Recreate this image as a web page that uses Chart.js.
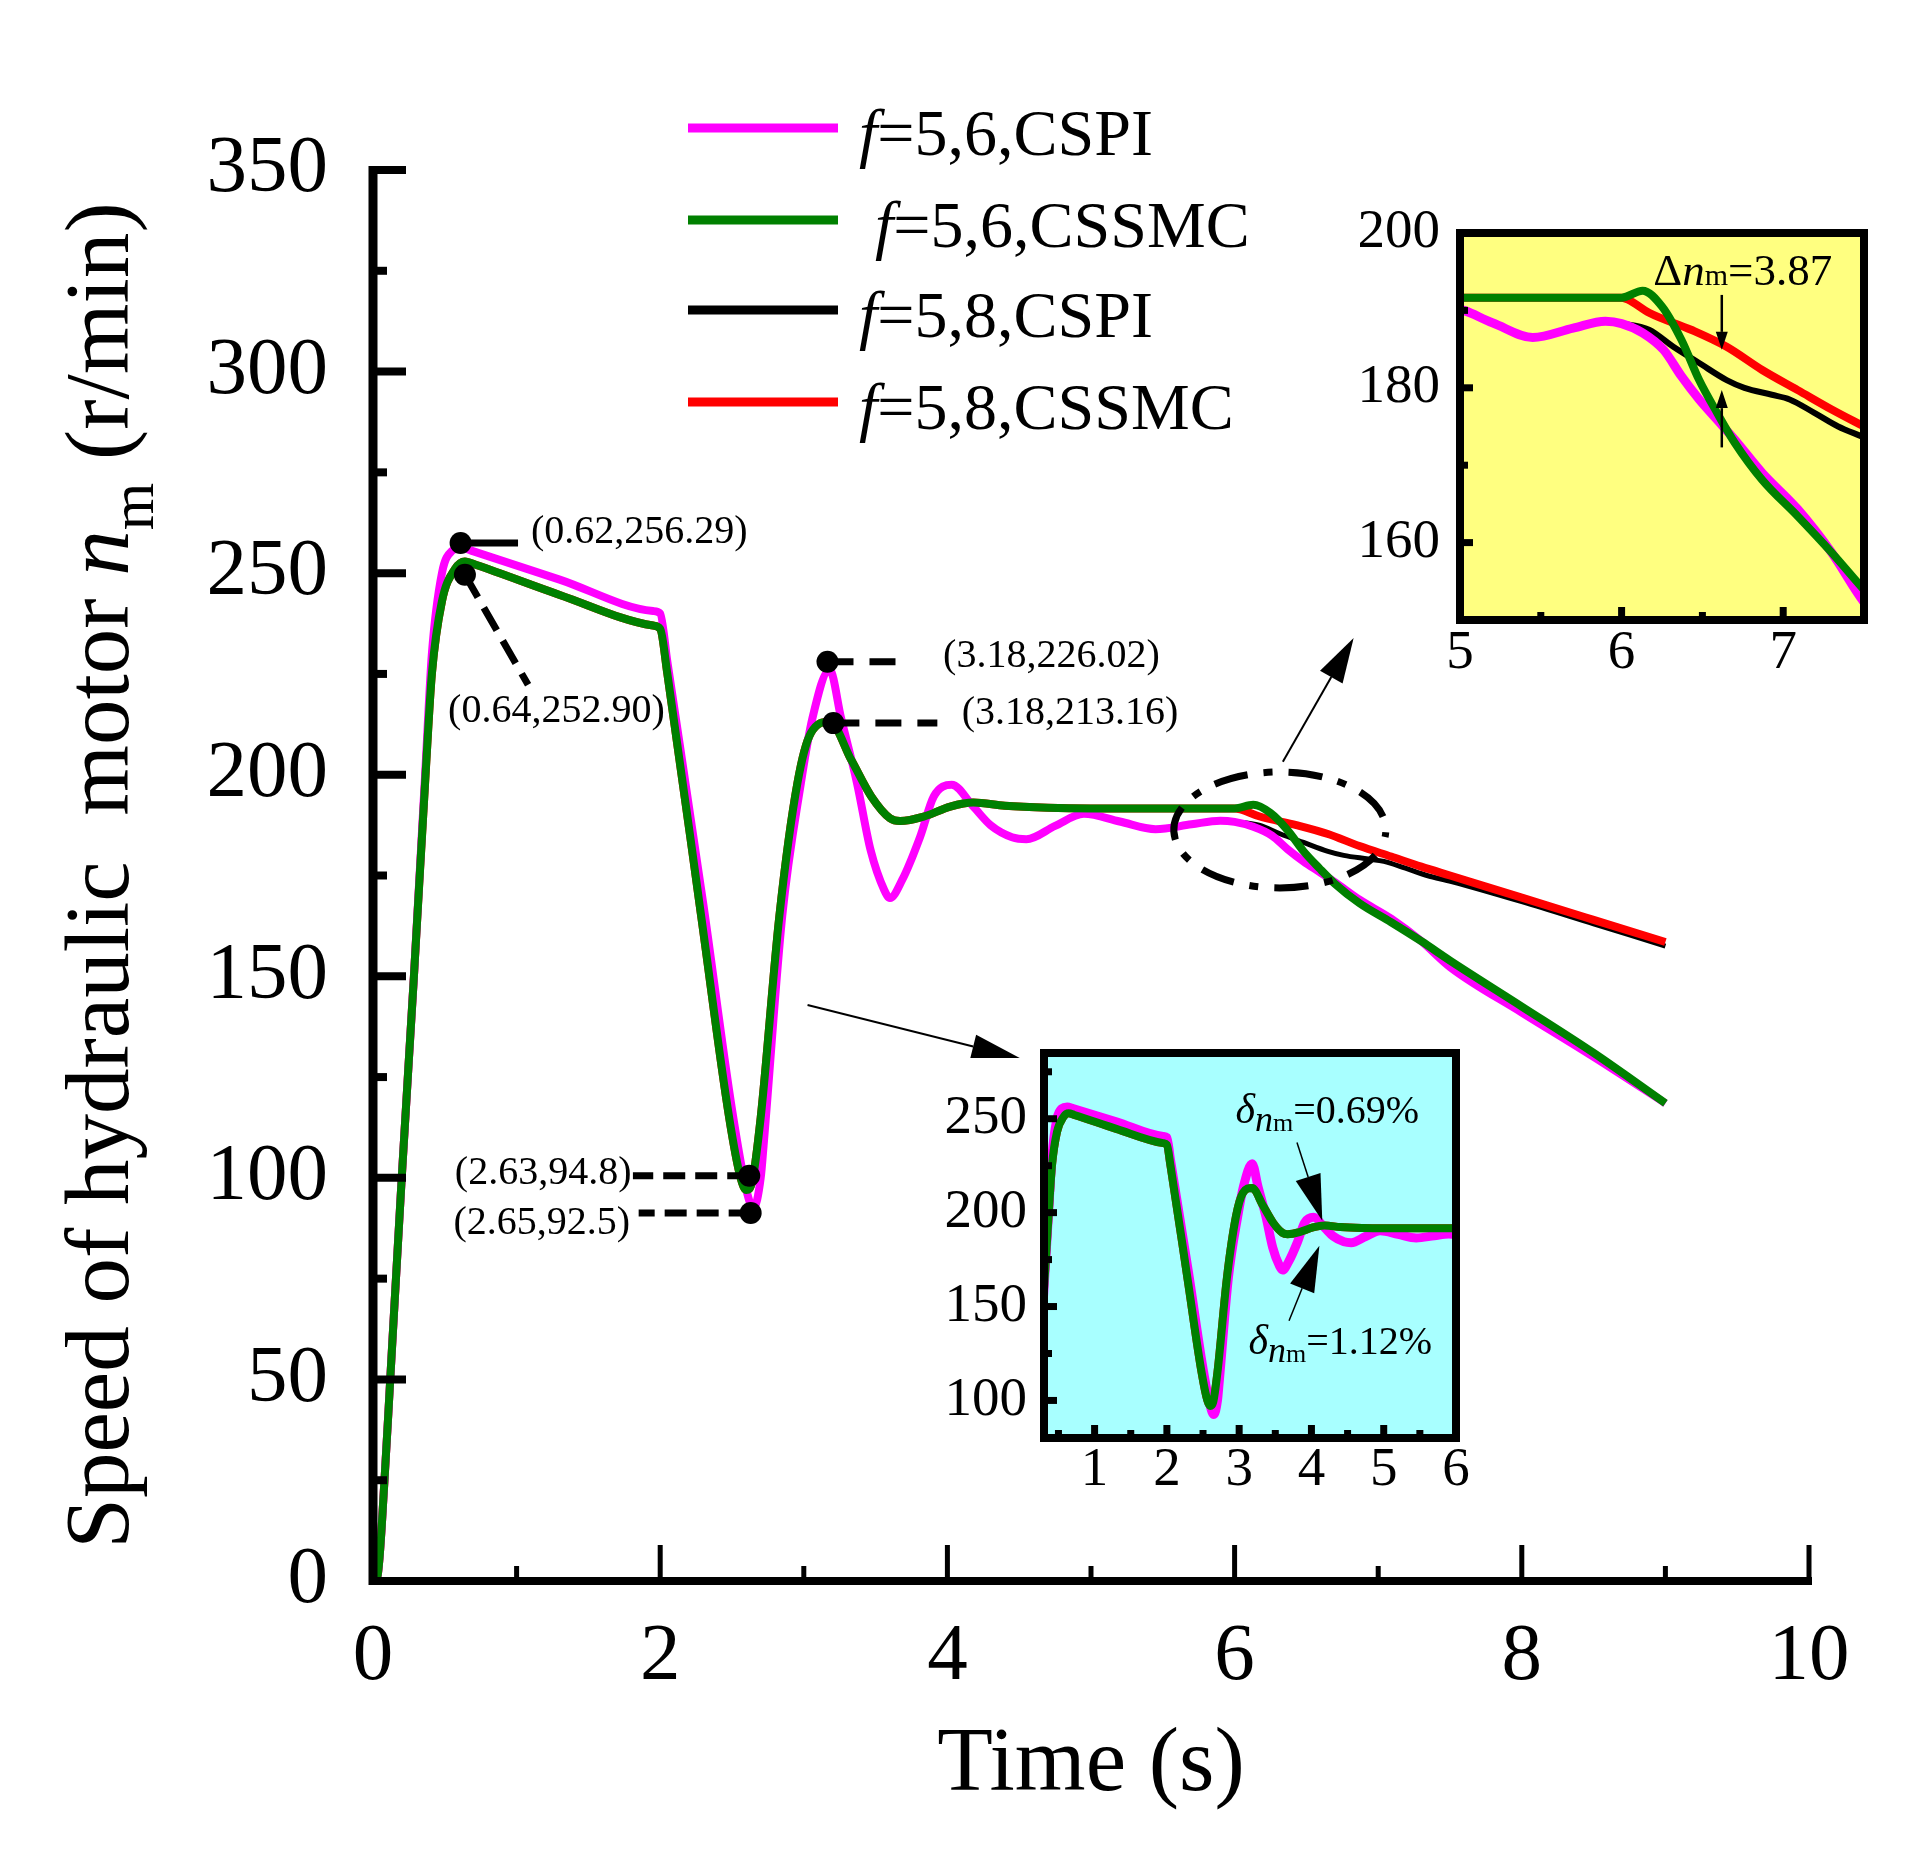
<!DOCTYPE html>
<html>
<head>
<meta charset="utf-8">
<script src="https://cdn.jsdelivr.net/npm/chart.js@4.4.1/dist/chart.umd.min.js"></script>
<style>
  html, body { margin: 0; padding: 0; background: #fff; }
  #wrap { position: relative; width: 1920px; height: 1873px; }
  canvas { position: absolute; }
</style>
</head>
<body>
<div id="wrap">
  <canvas id="mainChart" width="1920" height="1873" style="left:0;top:0"></canvas>
  <canvas id="zoomCyan" width="600" height="540" style="left:900px;top:1000px"></canvas>
  <canvas id="zoomYellow" width="560" height="520" style="left:1360px;top:180px"></canvas>
</div>
<script>
// speed of the hydraulic motor, [time (s), n_m (r/min)]
// f=5 part is shared, the tails start when f switches to 6 or 8 at t = 6 s
const cspiBase = [[0,0],[0.03,1],[0.08,25],[0.12,50],[0.2,100],[0.285,150],[0.366,202],[0.41,230],
  [0.48,250],[0.55,255.5],[0.62,256.29],[0.7,255.4],[1.3,248.4],[1.95,240.6],[2.0,240],[2.05,228],
  [2.3,168],[2.5,117],[2.6,97],[2.65,92.5],[2.7,100],[2.72,108],[2.85,165],[2.98,198],[3.06,214],
  [3.18,226],[3.26,214],[3.37,198],[3.465,181.3],[3.56,171.4],[3.6,169.4],[3.685,173.9],[3.81,184.6],
  [3.905,194.6],[4.03,197.5],[4.18,192.1],[4.3,187.5],[4.45,184.5],[4.55,184],[4.75,187.3],
  [4.95,190.3],[5.2,188.4],[5.45,186.5],[5.7,187.7],[5.9,188.6],[6.0,188.3]];
const cspiTail6 = [[6.13,187.1],[6.26,184.9],[6.37,181.5],[6.48,178.5],[6.59,175.9],[6.7,173.3],
  [6.87,169],[7.09,164.3],[7.3,158.7],[7.5,152.3],[8.0,141],[8.5,130],[9.0,118.5]];
const cspiTail8 = [[6.17,187.5],[6.32,185.3],[6.48,183.2],[6.65,181],[6.76,180],[6.93,179.1],
  [7.04,178.5],[7.19,176.8],[7.34,175],[7.51,173.5],[8.0,168.5],[8.5,163],[9.0,157.5]];

const cssmcBase = [[0,0],[0.03,1],[0.08,25],[0.12,50],[0.2,100],[0.285,150],[0.366,200],[0.41,225],
  [0.48,243],[0.57,251],[0.64,252.9],[0.72,252],[1.3,244.6],[1.95,237],[2.0,236.2],[2.05,225],
  [2.285,165],[2.48,115],[2.56,100],[2.6,97],[2.64,99],[2.7,115],[2.83,165],[2.956,198],[3.05,210.4],
  [3.18,213.16],[3.33,203.7],[3.47,194.6],[3.6,189.2],[3.67,188.5],[3.835,189.6],[4.02,192.1],
  [4.18,193.1],[4.4,192.3],[4.7,191.8],[5.0,191.65],[5.5,191.65],[6.0,191.65]];
const cssmcTail6 = [[6.13,192.55],[6.25,190.5],[6.37,186.2],[6.48,181],[6.59,176.8],[6.7,172.9],
  [6.87,168.1],[7.09,163.4],[7.3,158.7],[7.5,153.9],[8.0,142.5],[8.5,131],[9.0,118.5]];
const cssmcTail8 = [[6.04,191.4],[6.17,189.7],[6.43,187.5],[6.65,185.3],[6.87,182.3],[7.09,179.7],
  [7.3,177.2],[7.5,175],[8.0,169.5],[8.5,164],[9.0,158.5]];

const seriesLabels = ['f=5,6,CSPI', 'f=5,6,CSSMC', 'f=5,8,CSPI', 'f=5,8,CSSMC'];
const seriesData = [cspiBase.concat(cspiTail6), cssmcBase.concat(cssmcTail6),
                    cspiBase.concat(cspiTail8), cssmcBase.concat(cssmcTail8)];

// marked points and their labels
const calloutPoints = [[0.61,257.5],[0.64,249.6],[3.165,228],[3.206,212.8],[2.62,100.5],[2.63,91.3]];
const calloutLabels = ['(0.62,256.29)', '(0.64,252.90)', '(3.18,226.02)', '(3.18,213.16)', '(2.63,94.8)', '(2.65,92.5)'];

// tick labels
const xTickLabels = [0, 2, 4, 6, 8, 10];
const yTickLabels = [0, 50, 100, 150, 200, 250, 300, 350];

const SERIF = '"Liberation Serif", "Times New Roman", serif';
const colors = ['#FF00FF', '#008000', '#000000', '#FF0000'];
const mainWidths = [8, 8, 5, 8];
const insetWidths = [9, 8, 6, 8];
const drawOrder = [1, 0, 3, 2]; // green on top, black at the bottom

function makeDatasets(widths) {
  return seriesLabels.map((label, i) => ({
    label,
    data: seriesData[i].map(([x, y]) => ({x, y})),
    borderColor: colors[i],
    borderWidth: widths[i],
    pointRadius: 0,
    fill: false,
    order: drawOrder[i],
    cubicInterpolationMode: 'monotone',
    borderJoinStyle: 'round'
  }));
}

function richWidth(ctx, parts) {
  let w = 0;
  for (const p of parts) { ctx.font = p.font; w += ctx.measureText(p.text).width; }
  return w;
}
function drawRich(ctx, parts, x, y) {
  for (const p of parts) {
    ctx.font = p.font;
    ctx.fillText(p.text, x, y + (p.dy || 0));
    x += ctx.measureText(p.text).width;
  }
}
function arrow(ctx, x1, y1, x2, y2, headLen, headW, lw) {
  const ang = Math.atan2(y2 - y1, x2 - x1);
  const bx = x2 - headLen * Math.cos(ang), by = y2 - headLen * Math.sin(ang);
  ctx.lineWidth = lw;
  ctx.setLineDash([]);
  ctx.beginPath(); ctx.moveTo(x1, y1); ctx.lineTo(bx, by); ctx.stroke();
  const nx = -Math.sin(ang) * headW / 2, ny = Math.cos(ang) * headW / 2;
  ctx.beginPath();
  ctx.moveTo(x2, y2); ctx.lineTo(bx + nx, by + ny); ctx.lineTo(bx - nx, by - ny);
  ctx.closePath(); ctx.fill();
}

// ---------- main chart ----------
const calloutLayout = [
  {line: [1.01, 257.5], text: [1.10, 260.2], align: 'left', dash: []},
  {line: [1.08, 222.3], text: [1.277, 215.6], align: 'center', dash: [26, 12]},
  {line: [3.71, 228], text: [3.97, 229.2], align: 'left', dash: [26, 16]},
  {line: [3.93, 212.8], text: [4.10, 215.3], align: 'left', dash: [26, 16]},
  {line: [1.81, 100.5], text: [1.80, 101.2], align: 'right', dash: [22, 10]},
  {line: [1.85, 91.3], text: [1.79, 88.8], align: 'right', dash: [22, 10]}
];

const mainDecor = {
  id: 'mainDecor',
  afterDraw(chart) {
    const {ctx, chartArea: a} = chart;
    const sx = chart.scales.x, sy = chart.scales.y;
    const px = v => sx.getPixelForValue(v), py = v => sy.getPixelForValue(v);
    ctx.save();
    ctx.strokeStyle = '#000'; ctx.fillStyle = '#000';

    // axes and inward ticks
    ctx.lineWidth = 9;
    ctx.beginPath(); ctx.moveTo(a.left, a.top - 4); ctx.lineTo(a.left, a.bottom + 4); ctx.stroke();
    ctx.lineWidth = 8;
    ctx.beginPath(); ctx.moveTo(a.left - 4, a.bottom); ctx.lineTo(a.right + 3, a.bottom); ctx.stroke();
    ctx.lineWidth = 8;
    for (const t of sy.ticks) {
      if (t.value === 0) continue;
      const len = t.value % 50 === 0 ? 33 : 14;
      const y = py(t.value);
      ctx.beginPath(); ctx.moveTo(a.left, y); ctx.lineTo(a.left + len, y); ctx.stroke();
    }
    ctx.lineWidth = 5;
    for (const t of sx.ticks) {
      if (t.value === 0) continue;
      const len = t.value % 2 === 0 ? 36 : 15;
      const x = px(t.value);
      ctx.beginPath(); ctx.moveTo(x, a.bottom); ctx.lineTo(x, a.bottom - len); ctx.stroke();
    }

    // axis titles
    ctx.textBaseline = 'alphabetic'; ctx.textAlign = 'left';
    const xt = [{text: 'Time (s)', font: `91px ${SERIF}`}];
    drawRich(ctx, xt, (a.left + a.right) / 2 - richWidth(ctx, xt) / 2, 1790);
    const yt = [
      {text: 'Speed of hydraulic  motor ', font: `91px ${SERIF}`},
      {text: 'n', font: `italic 91px ${SERIF}`},
      {text: 'm', font: `61px ${SERIF}`, dy: 25},
      {text: ' (r/min)', font: `91px ${SERIF}`}
    ];
    ctx.save();
    ctx.translate(128, (a.top + a.bottom) / 2);
    ctx.rotate(-Math.PI / 2);
    drawRich(ctx, yt, -richWidth(ctx, yt) / 2, 0);
    ctx.restore();

    // legend
    const rowY = [128, 220, 310, 402], indent = [0, 16, 0, 0];
    seriesLabels.forEach((lab, i) => {
      ctx.strokeStyle = colors[i]; ctx.lineWidth = 9; ctx.setLineDash([]);
      ctx.beginPath(); ctx.moveTo(688, rowY[i]); ctx.lineTo(838, rowY[i]); ctx.stroke();
      drawRich(ctx, [
        {text: lab.charAt(0), font: `italic 66px ${SERIF}`},
        {text: lab.slice(1), font: `66px ${SERIF}`}
      ], 859 + indent[i], rowY[i] + 27);
    });
    ctx.strokeStyle = '#000';

    // callouts
    ctx.font = `40px ${SERIF}`;
    ctx.textBaseline = 'middle';
    calloutPoints.forEach(([t, v], i) => {
      const L = calloutLayout[i];
      ctx.lineWidth = 7; ctx.setLineDash(L.dash);
      ctx.beginPath(); ctx.moveTo(px(t), py(v)); ctx.lineTo(px(L.line[0]), py(L.line[1])); ctx.stroke();
      ctx.setLineDash([]);
      ctx.beginPath(); ctx.arc(px(t), py(v), 11, 0, Math.PI * 2); ctx.fill();
      ctx.textAlign = L.align;
      ctx.fillText(calloutLabels[i], px(L.text[0]), py(L.text[1]));
    });

    // dash-dot ellipse around the switching region
    ctx.lineWidth = 7; ctx.setLineDash([34, 16, 9, 16]);
    ctx.beginPath();
    ctx.ellipse(px(6.315), py(186.3), 106, 58, 0, 0.45, Math.PI * 2 + 0.12);
    ctx.stroke();
    ctx.setLineDash([]);

    // pointers to the insets
    arrow(ctx, px(6.336), py(203.2), px(6.829), py(233.9), 45, 26, 2);
    arrow(ctx, px(3.026), py(142.9), px(4.504), py(129.7), 48, 24, 2);
    ctx.restore();
  }
};

new Chart(document.getElementById('mainChart').getContext('2d'), {
  type: 'line',
  data: {datasets: makeDatasets(mainWidths)},
  options: {
    responsive: false,
    animation: false,
    devicePixelRatio: 1,
    layout: {padding: {top: 170, right: 111, left: 0, bottom: 0}},
    plugins: {legend: {display: false}, tooltip: {enabled: false}},
    scales: {
      x: {
        type: 'linear', min: 0, max: 10,
        afterFit: s => { s.height = 292; },
        grid: {display: false, drawTicks: false},
        border: {display: false},
        ticks: {
          stepSize: 1, padding: 28, color: '#000', maxRotation: 0, autoSkip: false,
          font: {family: SERIF, size: 81},
          callback: v => xTickLabels.includes(v) ? String(v) : ''
        }
      },
      y: {
        type: 'linear', min: 0, max: 350,
        afterFit: s => { s.width = 373; },
        grid: {display: false, drawTicks: false},
        border: {display: false},
        ticks: {
          stepSize: 25, padding: 45, color: '#000', autoSkip: false,
          font: {family: SERIF, size: 81},
          callback: v => yTickLabels.includes(v) ? String(v) : ''
        }
      }
    }
  },
  plugins: [mainDecor]
});

// ---------- insets ----------
function insetDecor(bg, xMajor, yMajor, extras) {
  return {
    id: 'insetDecor',
    beforeDatasetsDraw(chart) {
      const {ctx, chartArea: a} = chart;
      ctx.save(); ctx.fillStyle = bg;
      ctx.fillRect(a.left, a.top, a.right - a.left, a.bottom - a.top);
      ctx.restore();
    },
    afterDraw(chart) {
      const {ctx, chartArea: a} = chart;
      const sx = chart.scales.x, sy = chart.scales.y;
      ctx.save();
      ctx.strokeStyle = '#000'; ctx.fillStyle = '#000';
      ctx.lineWidth = 8; ctx.setLineDash([]);
      ctx.strokeRect(a.left, a.top, a.right - a.left, a.bottom - a.top);
      ctx.lineWidth = 7;
      for (const t of sy.ticks) {
        if (t.value <= sy.min || t.value >= sy.max) continue;
        const len = yMajor(t.value) ? 13 : 8, y = sy.getPixelForValue(t.value);
        ctx.beginPath(); ctx.moveTo(a.left, y); ctx.lineTo(a.left + len, y); ctx.stroke();
      }
      for (const t of sx.ticks) {
        if (t.value <= sx.min || t.value >= sx.max) continue;
        const len = xMajor(t.value) ? 13 : 8, x = sx.getPixelForValue(t.value);
        ctx.beginPath(); ctx.moveTo(x, a.bottom); ctx.lineTo(x, a.bottom - len); ctx.stroke();
      }
      extras(ctx, v => sx.getPixelForValue(v), v => sy.getPixelForValue(v));
      ctx.restore();
    }
  };
}

function makeInset(id, o) {
  new Chart(document.getElementById(id).getContext('2d'), {
    type: 'line',
    data: {datasets: makeDatasets(insetWidths)},
    options: {
      responsive: false,
      animation: false,
      devicePixelRatio: 1,
      layout: {padding: o.padding},
      plugins: {legend: {display: false}, tooltip: {enabled: false}},
      scales: {
        x: {
          type: 'linear', min: o.x[0], max: o.x[1],
          afterFit: s => { s.height = o.xh; },
          grid: {display: false, drawTicks: false}, border: {display: false},
          ticks: {
            stepSize: o.x[2], includeBounds: false, padding: o.xpad, color: '#000',
            autoSkip: false, maxRotation: 0, font: {family: SERIF, size: 55},
            callback: v => o.xLabels.includes(v) ? String(v) : ''
          }
        },
        y: {
          type: 'linear', min: o.y[0], max: o.y[1],
          afterFit: s => { s.width = o.yw; },
          grid: {display: false, drawTicks: false}, border: {display: false},
          ticks: {
            stepSize: o.y[2], includeBounds: false, padding: o.ypad, color: '#000',
            autoSkip: false, font: {family: SERIF, size: 55},
            callback: v => o.yLabels.includes(v) ? String(v) : ''
          }
        }
      }
    },
    plugins: [insetDecor(o.bg, o.xMajor, o.yMajor, o.extras)]
  });
}

const cyanXLabels = [1, 2, 3, 4, 5, 6];
const cyanYLabels = [100, 150, 200, 250];
const yellowXLabels = [5, 6, 7];
const yellowYLabels = [160, 180, 200];

makeInset('zoomCyan', {
  bg: '#A8FFFF',
  padding: {top: 53, right: 44, left: 0, bottom: 0},
  xh: 102, yw: 144, xpad: 0, ypad: 17,
  x: [0.3, 6, 0.5], y: [80, 285, 25],
  xLabels: cyanXLabels, yLabels: cyanYLabels,
  xMajor: v => Number.isInteger(v), yMajor: v => v % 50 === 0,
  extras(ctx, px, py) {
    ctx.textBaseline = 'alphabetic'; ctx.textAlign = 'left';
    const delta = val => [
      {text: '\u03B4', font: `italic 42px ${SERIF}`},
      {text: 'n', font: `italic 36px ${SERIF}`, dy: 8},
      {text: 'm', font: `26px ${SERIF}`, dy: 8},
      {text: '=' + val, font: `40px ${SERIF}`}
    ];
    drawRich(ctx, delta('0.69%'), px(2.95), py(247.5));
    drawRich(ctx, delta('1.12%'), px(3.13), py(124.8));
    arrow(ctx, px(3.80), py(237.4), px(4.15), py(195.7), 46, 26, 1.5);
    arrow(ctx, px(3.69), py(142.4), px(4.11), py(182.4), 46, 26, 1.5);
  }
});

makeInset('zoomYellow', {
  bg: '#FFFF80',
  padding: {top: 52, right: 56, left: 0, bottom: 0},
  xh: 80, yw: 100, xpad: 1, ypad: 20,
  x: [5, 7.5, 0.5], y: [150, 200, 10],
  xLabels: yellowXLabels, yLabels: yellowYLabels,
  xMajor: v => Number.isInteger(v), yMajor: v => (v - 160) % 20 === 0,
  extras(ctx, px, py) {
    ctx.textBaseline = 'alphabetic'; ctx.textAlign = 'left';
    drawRich(ctx, [
      {text: '\u0394', font: `45px ${SERIF}`},
      {text: 'n', font: `italic 45px ${SERIF}`},
      {text: 'm', font: `30px ${SERIF}`},
      {text: '=3.87', font: `45px ${SERIF}`}
    ], px(6.196), py(193.3));
    arrow(ctx, px(6.62), py(192.0), px(6.62), py(184.9), 18, 12, 2.5);
    arrow(ctx, px(6.62), py(172.3), px(6.62), py(179.7), 18, 12, 2.5);
  }
});
</script>
</body>
</html>
